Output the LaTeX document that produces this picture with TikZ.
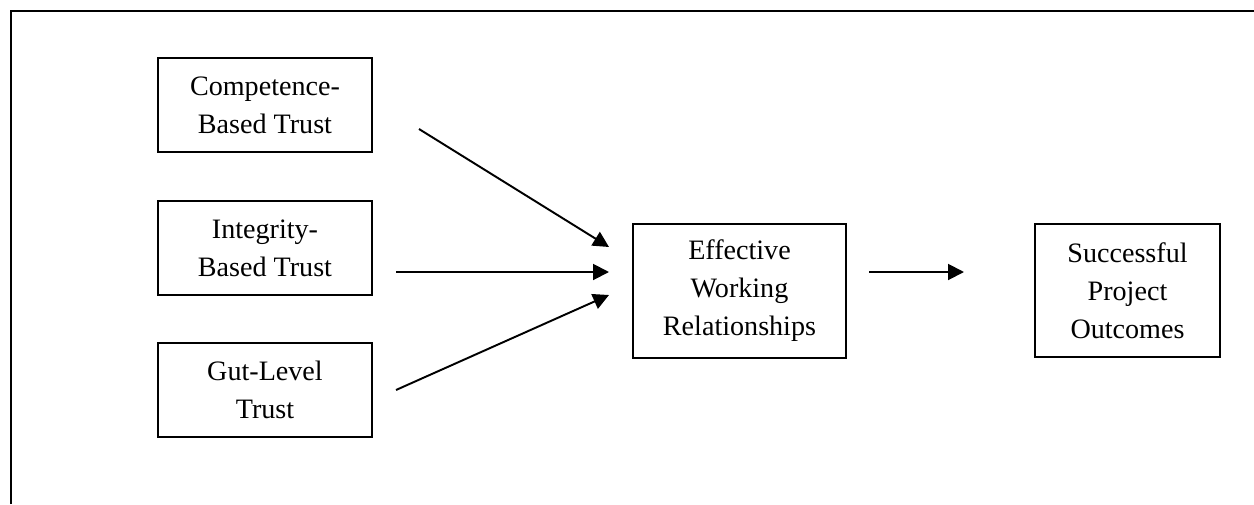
\documentclass[tikz,border=0pt]{standalone}
\usepackage{fontspec}
\setmainfont{Liberation Serif}
\usetikzlibrary{arrows.meta}

\begin{document}
\begin{tikzpicture}[x=0.02cm, y=-0.02cm, line width=1.1pt]
\tikzset{factor/.style = {shape=rectangle, draw, align=center, inner sep=0pt,
    font=\fontsize{16pt}{21.6pt}\selectfont}}
\tikzset{link/.style = {-{Triangle[length=9pt,width=9pt]}}}

\useasboundingbox (0,0) rectangle (1254,504);
\draw[line width=1.5pt] (11,504) -- (11,11) -- (1254,11);

\node[factor, minimum width=4.28cm, minimum height=1.88cm] (comp) at (265,105) {Competence-\\Based Trust};
\node[factor, minimum width=4.28cm, minimum height=1.88cm] (integ) at (265,248) {Integrity-\\Based Trust};
\node[factor, minimum width=4.28cm, minimum height=1.88cm] (gut) at (265,390) {Gut-Level\\Trust};
\node[factor, minimum width=4.26cm, minimum height=2.68cm] (work) at (739.5,291) {Effective\\Working\\Relationships};
\node[factor, minimum width=3.70cm, minimum height=2.66cm] (outc) at (1127.5,290.5) {Successful\\Project\\Outcomes};

%arrow ends
\coordinate (compout) at (419,129);
\coordinate (integout) at (396,272);
\coordinate (gutout) at (396,390);
\coordinate (workout) at (869,272);
\coordinate (workin1) at (609,247);
\coordinate (workin2) at (609,272);
\coordinate (workin3) at (609,295);
\coordinate (outcin) at (964,272);

%edges
\draw[link] (compout) -- (workin1);
\draw[link] (integout) -- (workin2);
\draw[link] (gutout) -- (workin3);
\draw[link] (workout) -- (outcin);

\end{tikzpicture}
\end{document}
